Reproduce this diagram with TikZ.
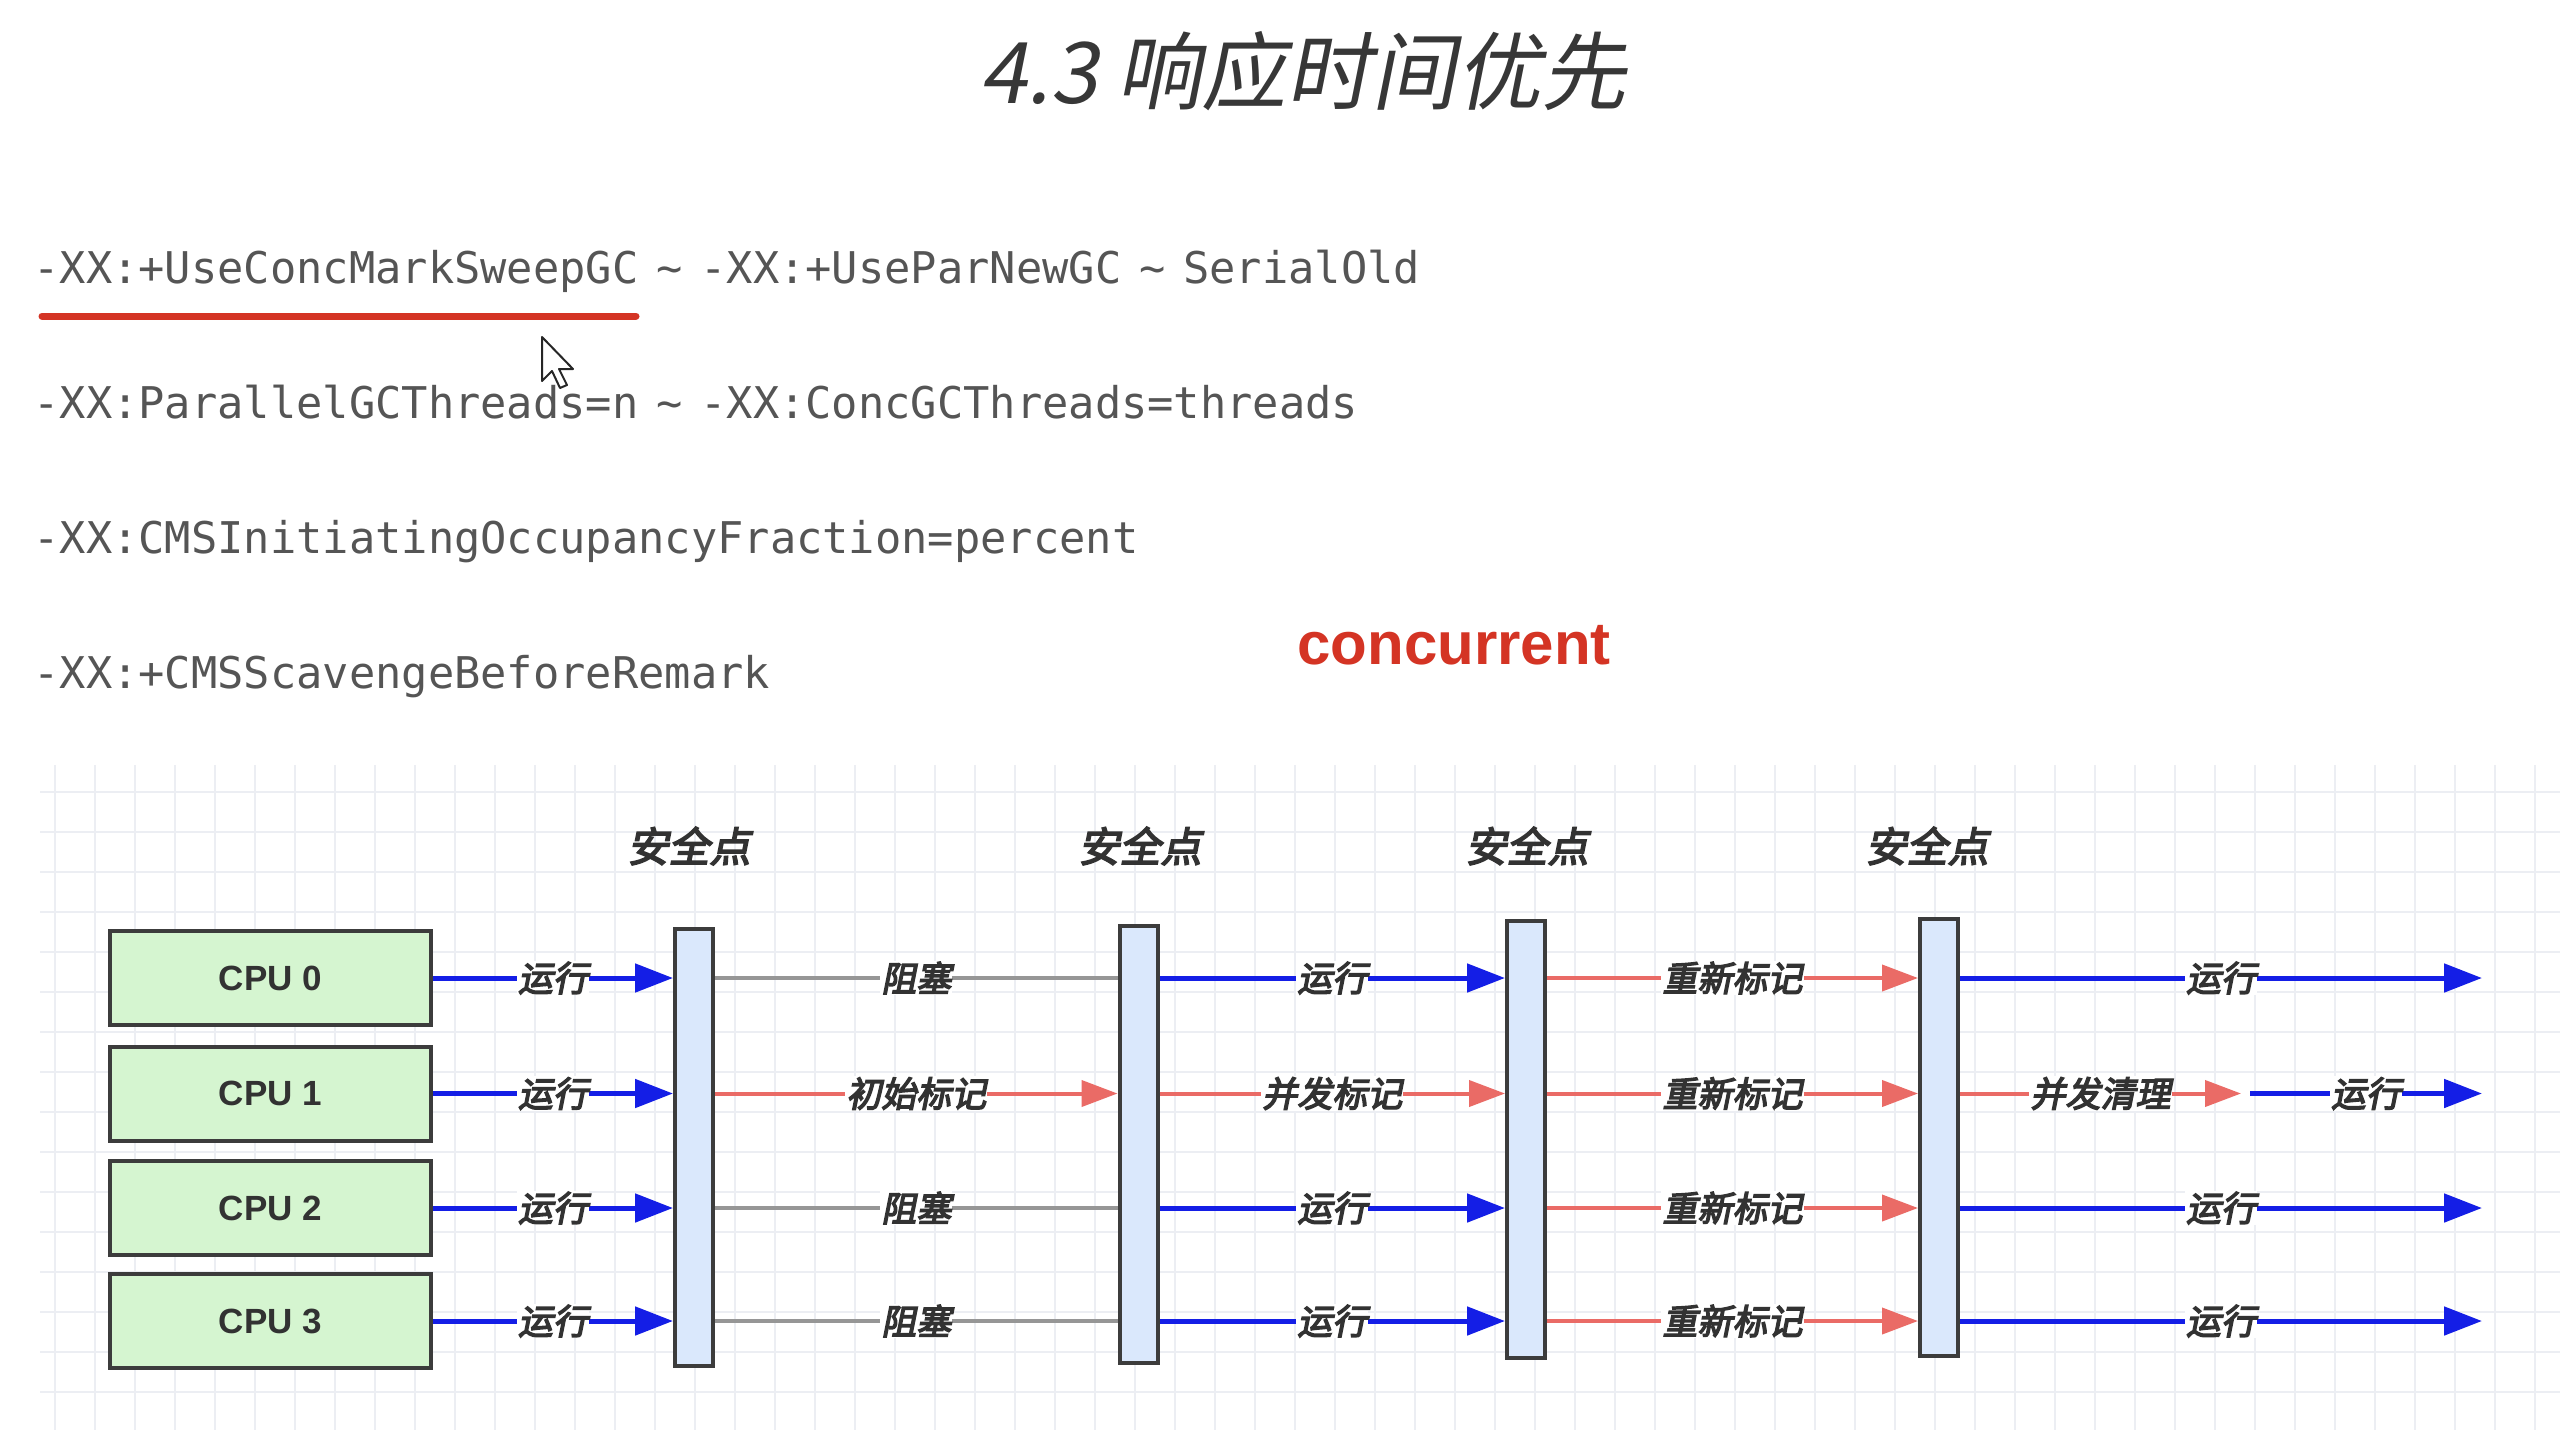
\documentclass[tikz,border=0pt]{standalone}
\usepackage{fontspec}
\usetikzlibrary{arrows.meta}
\newfontfamily\monof{DejaVu Sans Mono}
\newfontfamily\cjkt{Noto Sans CJK SC}[FakeSlant=0.2]
\newfontfamily\cjkb{Noto Sans CJK SC}[FakeSlant=0.2,FakeBold=4]
\newfontfamily\sansf{Liberation Sans}
\definecolor{arrblue}{RGB}{20,30,230}
\definecolor{arrred}{RGB}{234,107,102}
\definecolor{arrgray}{RGB}{150,150,150}
\definecolor{barfill}{RGB}{218,232,252}
\definecolor{cpufill}{RGB}{213,245,208}
\definecolor{edgedark}{RGB}{60,60,60}
\definecolor{gridc}{RGB}{236,238,243}
\definecolor{monotext}{RGB}{85,85,85}
\definecolor{redtxt}{RGB}{212,52,36}
\definecolor{labtext}{RGB}{50,50,50}
\definecolor{titletext}{RGB}{55,55,55}
\newcommand{\tsep}{\makebox[31pt]{\textasciitilde}}
\tikzset{
  cpubox/.style={draw=edgedark, fill=cpufill, line width=2pt, minimum width=160.5pt,
    minimum height=47pt, inner sep=0pt, text=labtext,
    font=\sansf\bfseries\fontsize{17.5}{20}\selectfont},
  spbar/.style={draw=edgedark, fill=barfill, line width=2pt, minimum width=19pt,
    minimum height=218.5pt, inner sep=0pt},
  sptext/.style={inner sep=0pt, text=labtext, font=\cjkb\fontsize{20.5}{24}\selectfont},
  lbl/.style={fill=white, inner sep=0.6pt, text=labtext, font=\cjkb\fontsize{17.5}{20}\selectfont},
  bluearr/.style={draw=arrblue, line width=2.5pt, -{Triangle[length=19pt,width=14pt]}},
  redarr/.style={draw=arrred, line width=2pt, -{Triangle[length=18pt,width=13pt]}},
  grayline/.style={draw=arrgray, line width=2pt},
  monoline/.style={anchor=base west, inner sep=0pt, text=monotext,
    font=\monof\fontsize{21.85}{25}\selectfont},
  gridline/.style={draw=gridc, line width=0.8pt}
}
\begin{document}
\begin{tikzpicture}[x=0.5pt,y=-0.5pt]
\path[fill=white] (0,0) rectangle (2560,1430);
\useasboundingbox (0,0) rectangle (2560,1430);
% grid
\foreach \gx in {55,95,...,2535} \draw[gridline] (\gx,765) -- (\gx,1430);
\foreach \gy in {792,832,...,1392} \draw[gridline] (40,\gy) -- (2560,\gy);
% title
\node[inner sep=0pt, text=titletext, font=\cjkt\fontsize{42.5}{50}\selectfont] (title) at (1303,71) {4.3 响应时间优先};
% option lines
\node[monoline] (opt1) at (33,283) {-XX:+UseConcMarkSweepGC\tsep-XX:+UseParNewGC\tsep SerialOld};
\node[monoline] (opt2) at (33,418) {-XX:ParallelGCThreads=n\tsep-XX:ConcGCThreads=threads};
\node[monoline] (opt3) at (33,553) {-XX:CMSInitiatingOccupancyFraction=percent};
\node[monoline] (opt4) at (33,688) {-XX:+CMSScavengeBeforeRemark};
\draw[draw=redtxt, line width=3.5pt, line cap=round] (42,316) -- (636,316);
% cursor
\draw[fill=white, draw=black!85, line width=1pt, line join=round]
  (542,337) -- (542,381) -- (552,371) -- (560,388) -- (567,385) -- (559,369) -- (573,369) -- cycle;
% concurrent
\node[anchor=base, inner sep=0pt, text=redtxt, font=\sansf\bfseries\fontsize{30}{34}\selectfont] (conc) at (1454,664) {concurrent};
% CPU boxes
\node[cpubox] (c0) at (270.5,978) {CPU 0};
\node[cpubox] (c1) at (270.5,1093.5) {CPU 1};
\node[cpubox] (c2) at (270.5,1208) {CPU 2};
\node[cpubox] (c3) at (270.5,1321) {CPU 3};
% safepoint bars
\node[spbar] (b1) at (694,1147.5) {};
\node[spbar] (b2) at (1138.5,1144.5) {};
\node[spbar] (b3) at (1526,1139.5) {};
\node[spbar] (b4) at (1939,1137) {};
\node[sptext] (s1) at (689,846) {安全点};
\node[sptext] (s2) at (1140,846) {安全点};
\node[sptext] (s3) at (1527,846) {安全点};
\node[sptext] (s4) at (1927,846) {安全点};
\coordinate (split) at (2241,0);
\coordinate (split2) at (2250,0);
\coordinate (end) at (2482,0);
% row 0
\draw[bluearr] (c0.east) -- (c0.east -| b1.west) node[lbl,midway] {运行};
\draw[grayline] (c0.east -| b1.east) -- (c0.east -| b2.west) node[lbl,midway] {阻塞};
\draw[bluearr] (c0.east -| b2.east) -- (c0.east -| b3.west) node[lbl,midway] {运行};
\draw[redarr] (c0.east -| b3.east) -- (c0.east -| b4.west) node[lbl,midway] {重新标记};
\draw[bluearr] (c0.east -| b4.east) -- (c0.east -| end) node[lbl,midway] {运行};
% row 1
\draw[bluearr] (c1.east) -- (c1.east -| b1.west) node[lbl,midway] {运行};
\draw[redarr] (c1.east -| b1.east) -- (c1.east -| b2.west) node[lbl,midway] {初始标记};
\draw[redarr] (c1.east -| b2.east) -- (c1.east -| b3.west) node[lbl,midway] {并发标记};
\draw[redarr] (c1.east -| b3.east) -- (c1.east -| b4.west) node[lbl,midway] {重新标记};
\draw[redarr] (c1.east -| b4.east) -- (c1.east -| split) node[lbl,midway] {并发清理};
\draw[bluearr] (c1.east -| split2) -- (c1.east -| end) node[lbl,midway] {运行};
% row 2
\draw[bluearr] (c2.east) -- (c2.east -| b1.west) node[lbl,midway] {运行};
\draw[grayline] (c2.east -| b1.east) -- (c2.east -| b2.west) node[lbl,midway] {阻塞};
\draw[bluearr] (c2.east -| b2.east) -- (c2.east -| b3.west) node[lbl,midway] {运行};
\draw[redarr] (c2.east -| b3.east) -- (c2.east -| b4.west) node[lbl,midway] {重新标记};
\draw[bluearr] (c2.east -| b4.east) -- (c2.east -| end) node[lbl,midway] {运行};
% row 3
\draw[bluearr] (c3.east) -- (c3.east -| b1.west) node[lbl,midway] {运行};
\draw[grayline] (c3.east -| b1.east) -- (c3.east -| b2.west) node[lbl,midway] {阻塞};
\draw[bluearr] (c3.east -| b2.east) -- (c3.east -| b3.west) node[lbl,midway] {运行};
\draw[redarr] (c3.east -| b3.east) -- (c3.east -| b4.west) node[lbl,midway] {重新标记};
\draw[bluearr] (c3.east -| b4.east) -- (c3.east -| end) node[lbl,midway] {运行};
\end{tikzpicture}
\end{document}
